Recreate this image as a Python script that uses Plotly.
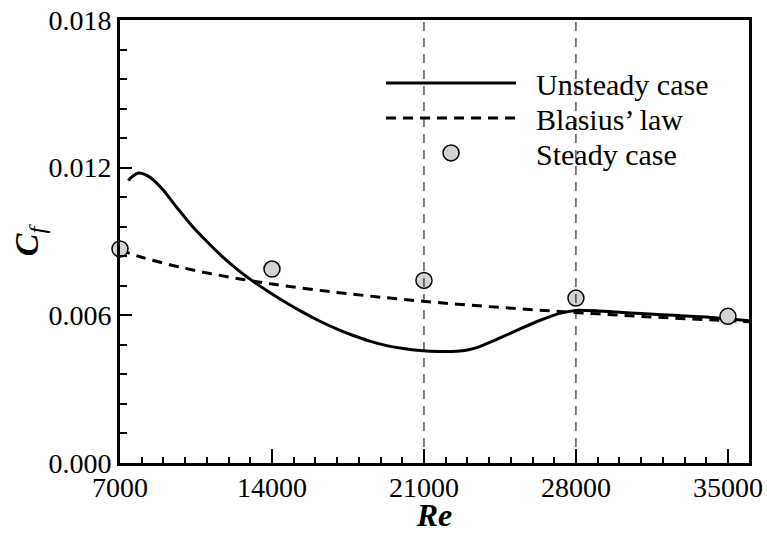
import plotly.graph_objects as go

# ---------------- data ----------------
unsteady_re = [7380, 7600, 7850, 8100, 8400, 9000, 9600, 10300, 11000, 11700, 12400,
               13100, 13900, 14677, 15450, 16211, 17000, 17745, 18500, 19280, 20050,
               20816, 21737, 22500, 23000, 23600, 24500, 25400, 26300, 27200, 28000,
               29000, 30000, 31000, 32500, 34000, 35000, 36000]
unsteady_cf = [0.01148, 0.01166, 0.01178, 0.01174, 0.01160, 0.01108, 0.01040, 0.00965,
               0.00900, 0.00840, 0.00787, 0.00740, 0.00693, 0.00650, 0.00611, 0.00576,
               0.00544, 0.00518, 0.00495, 0.00477, 0.00465, 0.00457, 0.00453, 0.00454,
               0.00459, 0.00474, 0.00508, 0.00544, 0.00578, 0.00607, 0.00620, 0.00618,
               0.00613, 0.00607, 0.00600, 0.00593, 0.00586, 0.00578]

blasius_re = [7000, 8000, 10000, 12000, 14000, 17000, 20000, 23000, 26000, 29000, 32000, 36000]
blasius_cf = [0.00865, 0.00836, 0.00791, 0.00756, 0.00727, 0.00693, 0.00665, 0.00642,
              0.00623, 0.00606, 0.00591, 0.00574]

steady_re = [7000, 14000, 21000, 28000, 35000]
steady_cf = [0.00870, 0.00788, 0.00742, 0.00670, 0.00596]

marker_lines_re = [21000, 28000]

x_ticks = [7000, 14000, 21000, 28000, 35000]
y_ticks = [0.000, 0.006, 0.012, 0.018]

series_names = ["Unsteady case", "Blasius\u2019 law", "Steady case"]

FONT = "Liberation Serif"
PAD = "\u00a0\u00a0"

fig = go.Figure()
fig.add_trace(go.Scatter(x=unsteady_re, y=unsteady_cf, mode="lines", name=PAD + series_names[0],
                         legend="legend",
                         line=dict(color="black", width=3, shape="spline", smoothing=0.5)))
fig.add_trace(go.Scatter(x=blasius_re, y=blasius_cf, mode="lines", name=PAD + series_names[1],
                         legend="legend2",
                         line=dict(color="black", width=3, dash="10px,7px", shape="spline")))
fig.add_trace(go.Scatter(x=steady_re, y=steady_cf, mode="markers", name=PAD + series_names[2],
                         legend="legend3", cliponaxis=False,
                         marker=dict(symbol="circle", size=16, color="#d3d3d3",
                                     line=dict(color="black", width=1.5))))

for xv in marker_lines_re:
    fig.add_shape(type="line", xref="x", yref="paper", x0=xv, x1=xv, y0=0, y1=1,
                  line=dict(color="black", width=1, dash="9px,7px"), layer="above")

axis_common = dict(showline=True, linecolor="black", linewidth=3, mirror=True,
                   ticks="inside", tickcolor="black", tickwidth=2,
                   showgrid=False, zeroline=False, automargin=False,
                   tickfont=dict(family=FONT, size=28, color="black"))

fig.update_xaxes(range=[7000, 35970], tickvals=x_ticks, ticktext=[str(v) for v in x_ticks],
                 ticklen=14, ticklabelstandoff=-3,
                 minor=dict(ticks="inside", dtick=1000, tick0=7000, ticklen=6,
                            tickwidth=1.5, tickcolor="black", showgrid=False),
                 title=dict(text="<b><i>Re</i></b>", font=dict(family=FONT, size=32, color="black"),
                            standoff=1),
                 **axis_common)
fig.update_yaxes(range=[0, 0.018], tickvals=y_ticks, tickformat=".3f",
                 ticklen=12,
                 minor=dict(ticks="inside", dtick=0.0012, tick0=0, ticklen=7,
                            tickwidth=1.5, tickcolor="black", showgrid=False),
                 title=dict(text="<b><i>C</i></b><sub><i>f</i></sub>",
                            font=dict(family=FONT, size=34, color="black"), standoff=0),
                 **axis_common)

leg_common = dict(x=0.415, xanchor="left", yanchor="middle",
                  bgcolor="rgba(0,0,0,0)", borderwidth=0, itemwidth=130,
                  font=dict(family=FONT, size=30, color="black"))

fig.update_layout(
    width=767, height=533,
    margin=dict(l=120, r=18, t=20, b=70),
    paper_bgcolor="white", plot_bgcolor="white",
    showlegend=True,
    legend=dict(y=0.858, **leg_common),
    legend2=dict(y=0.779, **leg_common),
    legend3=dict(y=0.700, **leg_common),
)

fig.write_html("out.html", config={"displayModeBar": False},
               post_script="document.body.style.margin='0';")
